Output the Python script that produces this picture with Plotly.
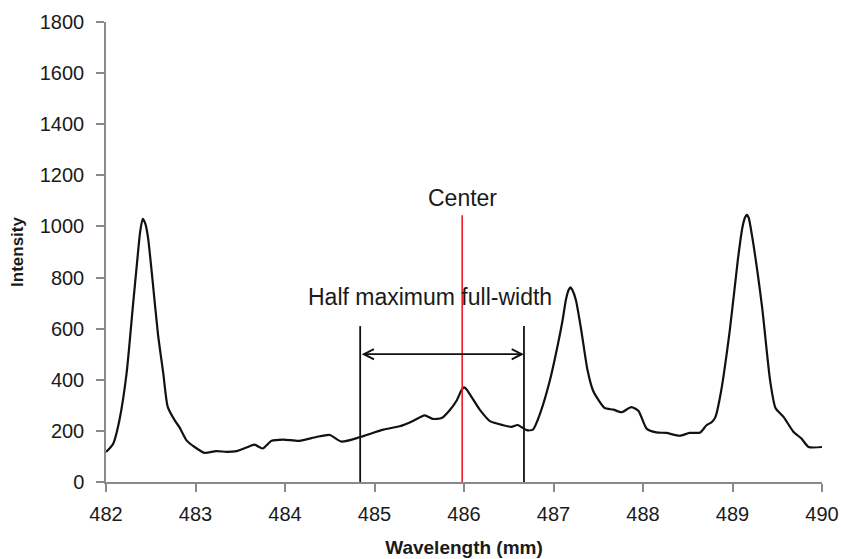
import plotly.graph_objects as go

# Spectrum data (wavelength in nm, intensity)
wavelength = [482.00, 482.08, 482.15, 482.23, 482.30, 482.35, 482.38, 482.41, 482.44, 482.47,
              482.52, 482.58, 482.64, 482.69, 482.77, 482.82, 482.90, 482.99, 483.10, 483.23,
              483.35, 483.46, 483.57, 483.66, 483.75, 483.85, 483.98, 484.16, 484.35, 484.50,
              484.63, 484.84, 484.98, 485.10, 485.28, 485.43, 485.56, 485.65, 485.75, 485.84,
              485.92, 485.97, 486.00, 486.03, 486.08, 486.18, 486.29, 486.44, 486.53, 486.60,
              486.70, 486.77, 486.85, 486.96, 487.05, 487.10, 487.14, 487.17, 487.19, 487.21,
              487.25, 487.31, 487.38, 487.44, 487.48, 487.57, 487.67, 487.76, 487.87, 487.95,
              488.04, 488.15, 488.26, 488.41, 488.52, 488.64, 488.71, 488.77, 488.81, 488.87,
              488.97, 489.06, 489.11, 489.14, 489.16, 489.18, 489.22, 489.33, 489.42, 489.48,
              489.57, 489.68, 489.77, 489.85, 490.00]
intensity = [117, 150, 242, 425, 686, 870, 975, 1030, 1010, 955,
             790, 581, 425, 294, 240, 215, 163, 137, 114, 121,
             118, 121, 135, 146, 131, 161, 166, 161, 176, 184,
             158, 176, 192, 205, 218, 239, 261, 247, 250, 281,
             320, 358, 370, 362, 335, 281, 238, 222, 216, 223,
             203, 205, 268, 398, 540, 630, 715, 752, 762, 752,
             712, 594, 438, 359, 333, 290, 283, 273, 293, 278,
             209, 194, 192, 181, 192, 194, 222, 235, 255, 350,
             594, 870, 995, 1035, 1045, 1035, 960, 686, 398, 290,
             255, 197, 170, 137, 137]

x_ticks = [482, 483, 484, 485, 486, 487, 488, 489, 490]
y_ticks = [0, 200, 400, 600, 800, 1000, 1200, 1400, 1600, 1800]

# Annotation values
center_wl = 485.98
center_top = 1044
hw_left = 484.84
hw_right = 486.67
hw_top = 610
arrow_level = 500
center_label = "Center"
center_label_y = 1111
hw_label = "Half maximum full-width"
hw_label_x = 485.62
hw_label_y = 724

FONT = "Liberation Sans, Arial, sans-serif"
AXIS_GRAY = "#8a8a8a"

fig = go.Figure()
fig.add_trace(go.Scatter(
    x=wavelength, y=intensity, mode="lines",
    line=dict(color="#111111", width=2.2, shape="spline", smoothing=0.6),
    showlegend=False, hoverinfo="x+y"))

# vertical lines
fig.add_shape(type="line", x0=hw_left, x1=hw_left, y0=0, y1=hw_top,
              line=dict(color="#111111", width=1.8))
fig.add_shape(type="line", x0=hw_right, x1=hw_right, y0=0, y1=hw_top,
              line=dict(color="#111111", width=1.8))
fig.add_shape(type="line", x0=center_wl, x1=center_wl, y0=0, y1=center_top,
              line=dict(color="#ee1c25", width=1.6))

# double-headed arrow
fig.add_annotation(x=hw_right, y=arrow_level, ax=hw_left, ay=arrow_level,
                   xref="x", yref="y", axref="x", ayref="y", text="",
                   showarrow=True, arrowhead=5, startarrowhead=5, arrowside="end+start",
                   arrowsize=1.1, startarrowsize=1.1, arrowwidth=1.8, arrowcolor="#111111",
                   standoff=0, startstandoff=0)

fig.add_annotation(x=center_wl, y=center_label_y, text=center_label, showarrow=False,
                   xref="x", yref="y", font=dict(family=FONT, size=23, color="#1a1a1a"))
fig.add_annotation(x=hw_label_x, y=hw_label_y, text=hw_label, showarrow=False,
                   xref="x", yref="y", font=dict(family=FONT, size=23, color="#1a1a1a"))

fig.update_xaxes(range=[482, 490], tickvals=x_ticks, ticktext=[str(v) for v in x_ticks],
                 automargin=False,
                 showgrid=False, zeroline=False, showline=True, linecolor=AXIS_GRAY, linewidth=1.5,
                 ticks="outside", ticklen=8, tickcolor=AXIS_GRAY, tickwidth=1.5,
                 ticklabelstandoff=5,
                 tickfont=dict(family=FONT, size=20, color="#1a1a1a"),
                 title=dict(text="<b>Wavelength (mm)</b>", standoff=17,
                            font=dict(family=FONT, size=19, color="#1a1a1a")))
fig.update_yaxes(range=[0, 1800], tickvals=y_ticks, ticktext=[str(v) for v in y_ticks],
                 automargin=False,
                 showgrid=False, zeroline=False, showline=True, linecolor=AXIS_GRAY, linewidth=1.5,
                 ticks="outside", ticklen=8, tickcolor=AXIS_GRAY, tickwidth=1.5,
                 ticklabelstandoff=8,
                 tickfont=dict(family=FONT, size=20, color="#1a1a1a"),
                 title=dict(text="<b>Intensity</b>", standoff=12,
                            font=dict(family=FONT, size=17, color="#1a1a1a")))

fig.update_layout(width=841, height=559, plot_bgcolor="white", paper_bgcolor="white",
                  margin=dict(l=106, r=19, t=22, b=77), font=dict(family=FONT))

fig.write_html("out.html")
